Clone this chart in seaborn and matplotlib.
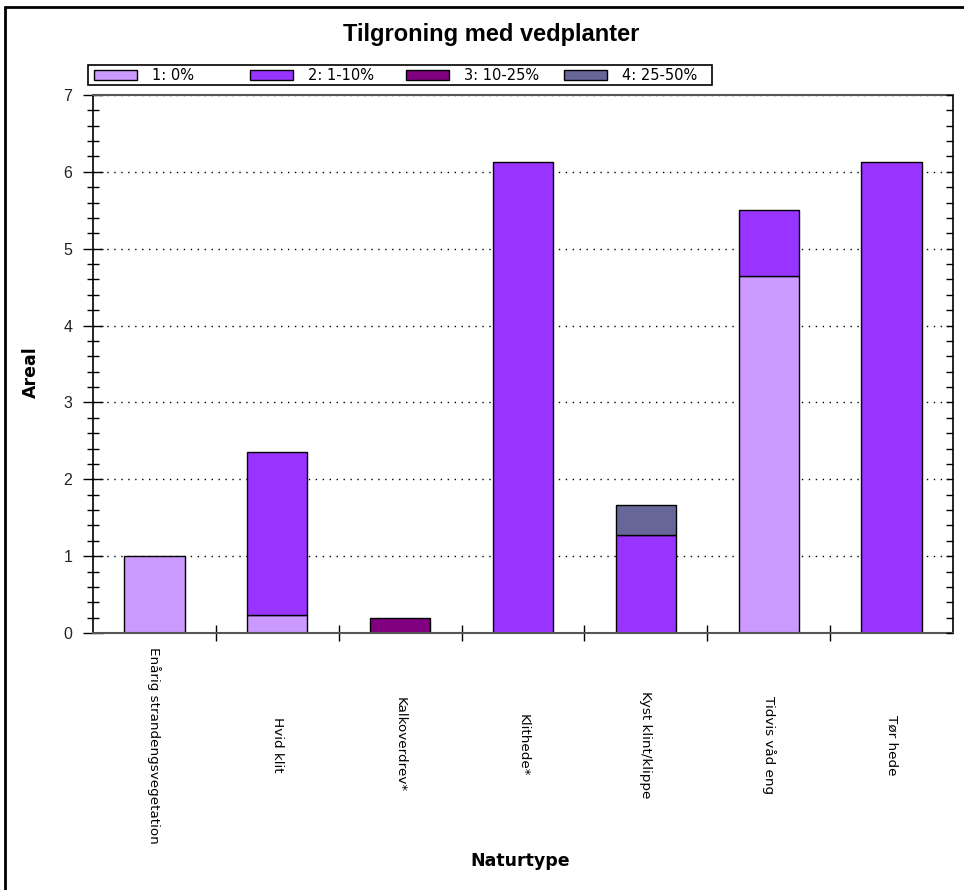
import matplotlib
matplotlib.use("Agg")
import matplotlib.pyplot as plt
from matplotlib.patches import Patch, Rectangle
from matplotlib.lines import Line2D
from matplotlib.ticker import MultipleLocator, FixedLocator
import seaborn as sns
import pandas as pd
import numpy as np

categories = ["Enårig strandengsvegetation", "Hvid klit", "Kalkoverdrev*", "Klithede*",
              "Kyst klint/klippe", "Tidvis våd eng", "Tør hede"]
classes = ["1: 0%", "2: 1-10%", "3: 10-25%", "4: 25-50%"]
s1 = [1.00, 0.23, 0.00, 0.00, 0.00, 4.65, 0.00]
s2 = [0.00, 2.12, 0.00, 6.13, 1.28, 0.86, 6.13]
s3 = [0.00, 0.00, 0.19, 0.00, 0.00, 0.00, 0.00]
s4 = [0.00, 0.00, 0.00, 0.00, 0.39, 0.00, 0.00]
colors = ["#CC99FF", "#9933FF", "#800080", "#666699"]

rows = []
for i, c in enumerate(categories):
    for cls, vals in zip(classes, [s1, s2, s3, s4]):
        rows.append({"Naturtype": c, "Klasse": cls, "Areal": vals[i]})
df = pd.DataFrame(rows)

sns.set_theme(style="white")
plt.rcParams["font.family"] = ["Liberation Sans", "DejaVu Sans"]
for k in ["text.color", "axes.labelcolor", "xtick.color", "ytick.color"]:
    plt.rcParams[k] = "black"

fig = plt.figure(figsize=(9.64, 8.9), dpi=100)
W, H = 964, 890
ax = fig.add_axes([93 / W, 1 - 633 / H, (953 - 93) / W, (633 - 95) / H])

palette = dict(zip(classes, colors))
sns.histplot(data=df, x="Naturtype", hue="Klasse", weights="Areal",
             hue_order=classes[::-1], multiple="stack", discrete=True,
             shrink=0.49, palette=palette, edgecolor="black", linewidth=1.0,
             alpha=1.0, legend=False, ax=ax)
# hide empty (zero-height) segments so they don't draw stray edges
for p in ax.patches:
    if abs(p.get_height()) < 1e-9:
        p.set_visible(False)

ax.set_xlim(-0.5, len(categories) - 0.5)
ax.set_ylim(0, 7)

# y axis
ax.yaxis.set_major_locator(MultipleLocator(1))
ax.yaxis.set_minor_locator(MultipleLocator(0.2))
ax.tick_params(axis="y", which="major", direction="inout", length=14, width=1,
               color="black", labelsize=11.5, pad=8, left=True, right=False,
               labelcolor="#222222")
ax.tick_params(axis="y", which="minor", direction="inout", length=8, width=1,
               color="black", left=True, right=False)
ax.grid(axis="y", which="major", linestyle=(0, (1, 4)), color="black", linewidth=1)
ax.set_axisbelow(True)

# x axis: tick marks at boundaries, labels at centres (vertically centred)
ax.set_xticks(np.arange(len(categories)))
ax.set_xticklabels(categories, rotation=270, fontsize=9.7,
                   family=["DejaVu Sans"], va="center", ha="center")
ax.tick_params(axis="x", which="major", length=0, pad=(745 - 633) * 0.72)
ax.xaxis.set_minor_locator(FixedLocator(np.arange(0.5, len(categories) - 0.5, 1)))
ax.tick_params(axis="x", which="minor", direction="inout", length=12, width=1,
               color="black", bottom=True)

# secondary right axis with inward ticks
ax2 = ax.twinx()
ax2.set_ylim(0, 7)
ax2.yaxis.set_major_locator(MultipleLocator(1))
ax2.yaxis.set_minor_locator(MultipleLocator(0.2))
ax2.tick_params(axis="y", which="both", direction="in", length=5, width=1,
                color="black", labelright=False)
for sp in ax2.spines.values():
    sp.set_visible(False)

for name, sp in ax.spines.items():
    sp.set_visible(True)
    sp.set_color("black" if name in ("left", "right") else "#555555")
    sp.set_linewidth(1.2 if name in ("left", "right") else 1.5)

ax.set_xlabel("Naturtype", fontsize=12.5, fontweight="bold", family=["DejaVu Sans"])
ax.xaxis.set_label_coords((520 - 93) / 860, -(852 - 633) / 538)
ax.set_ylabel("Areal", fontsize=12.5, fontweight="bold", family=["DejaVu Sans"])
ax.yaxis.set_label_coords(-(93 - 40) / 860, (633 - 372) / 538)

fig.text(491 / W, 1 - 35 / H, "Tilgroning med vedplanter", ha="center", va="center",
         fontsize=17, fontweight="bold")

# legend: equal-width columns inside one frame
fig.add_artist(Rectangle((88 / W, 1 - 85 / H), (712 - 88) / W, 20 / H,
                         transform=fig.transFigure, facecolor="white",
                         edgecolor="black", linewidth=1.2))
entry_x = [94, 250, 406, 564]
for x0, c, lab in zip(entry_x, colors, classes):
    lg = fig.legend([Patch(facecolor=c, edgecolor="black", linewidth=1)], [lab],
                    loc="center left", bbox_to_anchor=(x0 / W, 1 - 75.5 / H),
                    prop={"family": "DejaVu Sans", "size": 10.5},
                    frameon=False, handlelength=2.95, handleheight=0.75,
                    handletextpad=1.0, borderpad=0, borderaxespad=0)

# outer frame (top and left visible)
fig.add_artist(Line2D([5 / W, 1], [1 - 7 / H, 1 - 7 / H], color="black", linewidth=2,
                      transform=fig.transFigure))
fig.add_artist(Line2D([5 / W, 5 / W], [0, 1 - 7 / H], color="black", linewidth=2,
                      transform=fig.transFigure))

fig.savefig("out.png", dpi=100)
